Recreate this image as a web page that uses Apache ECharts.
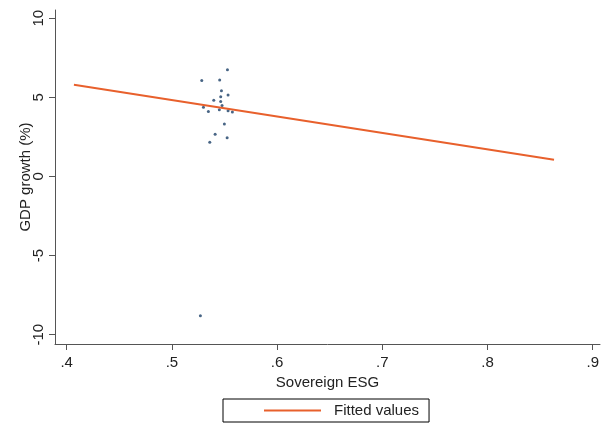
<!DOCTYPE html>
<html>
<head>
<meta charset="utf-8">
<script src="https://cdn.jsdelivr.net/npm/echarts@6/dist/echarts.min.js"></script>
<style>
  html, body { margin: 0; padding: 0; background: #fff; }
  #chartDiv { width: 605px; height: 426px; }
</style>
</head>
<body>
<div id="chartDiv"></div>
<script>
// Sovereign ESG (x) vs GDP growth % (y), one dot per country
var esgValues = [0.5528, 0.5284, 0.5454, 0.5471, 0.5464, 0.5534, 0.5398, 0.5464, 0.5477,
                 0.5300, 0.5347, 0.5451, 0.5534, 0.5575, 0.5499, 0.5411, 0.5525, 0.5360, 0.5271];
var gdpValues = [6.74, 6.07, 6.09, 5.41, 5.03, 5.14, 4.81, 4.74, 4.49,
                 4.37, 4.11, 4.21, 4.15, 4.07, 3.31, 2.66, 2.45, 2.16, -8.80];

// fitted line end points
var fitX = [0.4069, 0.8632];
var fitY = [5.79, 1.05];

var xTicks = [0.4, 0.5, 0.6, 0.7, 0.8, 0.9];
var yTicks = [-10, -5, 0, 5, 10];

var scatterData = [];
for (var i = 0; i < esgValues.length; i++) {
    scatterData.push([esgValues[i], gdpValues[i]]);
}
var fitData = [];
for (var j = 0; j < fitX.length; j++) {
    fitData.push([fitX[j], fitY[j]]);
}

var textColor = '#222';
var axisColor = '#555';
var fontName = 'Liberation Sans';

var chart = echarts.init(document.getElementById('chartDiv'));
var option = {
    animation: false,
    backgroundColor: '#fff',
    grid: { left: 55, top: 10, right: 5, bottom: 82, containLabel: false },
    xAxis: {
        type: 'value',
        min: 0.3889,
        max: 0.9069,
        name: 'Sovereign ESG',
        nameLocation: 'middle',
        nameGap: 31,
        nameMoveOverlap: false,
        nameTextStyle: { color: textColor, fontSize: 15, fontFamily: fontName },
        axisLine: { show: true, onZero: false, lineStyle: { color: axisColor, width: 1 } },
        axisTick: { show: true, length: 6, lineStyle: { color: axisColor }, customValues: xTicks },
        axisLabel: {
            color: textColor, fontSize: 15, fontFamily: fontName, margin: 11,
            customValues: xTicks,
            formatter: function (v) { return String(Math.round(v * 10) / 10).replace(/^0/, ''); }
        },
        splitLine: { show: false }
    },
    yAxis: {
        type: 'value',
        min: -10.59,
        max: 10.52,
        name: 'GDP growth (%)',
        nameLocation: 'middle',
        nameGap: 22,
        nameMoveOverlap: false,
        nameTextStyle: { color: textColor, fontSize: 15, fontFamily: fontName },
        axisLine: { show: true, onZero: false, lineStyle: { color: axisColor, width: 1 } },
        axisTick: { show: true, length: 6, lineStyle: { color: axisColor }, customValues: yTicks },
        axisLabel: {
            color: textColor, fontSize: 15, fontFamily: fontName, margin: 9, rotate: 90,
            customValues: yTicks
        },
        splitLine: { show: false }
    },
    legend: {
        data: ['Fitted values'],
        left: 223,
        top: 399,
        padding: [4, 10, 4, 41],
        borderColor: '#000',
        borderWidth: 1,
        borderRadius: 0,
        icon: 'rect',
        itemWidth: 57,
        itemHeight: 2,
        textStyle: { color: textColor, fontSize: 15, fontFamily: fontName, padding: [0, 0, 0, 8] }
    },
    series: [
        {
            name: 'GDP growth',
            type: 'scatter',
            symbol: 'circle',
            symbolSize: 3,
            itemStyle: { color: '#1a3f66' },
            data: scatterData
        },
        {
            name: 'Fitted values',
            type: 'line',
            symbol: 'none',
            lineStyle: { color: '#e8602c', width: 2 },
            itemStyle: { color: '#e8602c' },
            data: fitData
        }
    ]
};
chart.setOption(option);
</script>
</body>
</html>
